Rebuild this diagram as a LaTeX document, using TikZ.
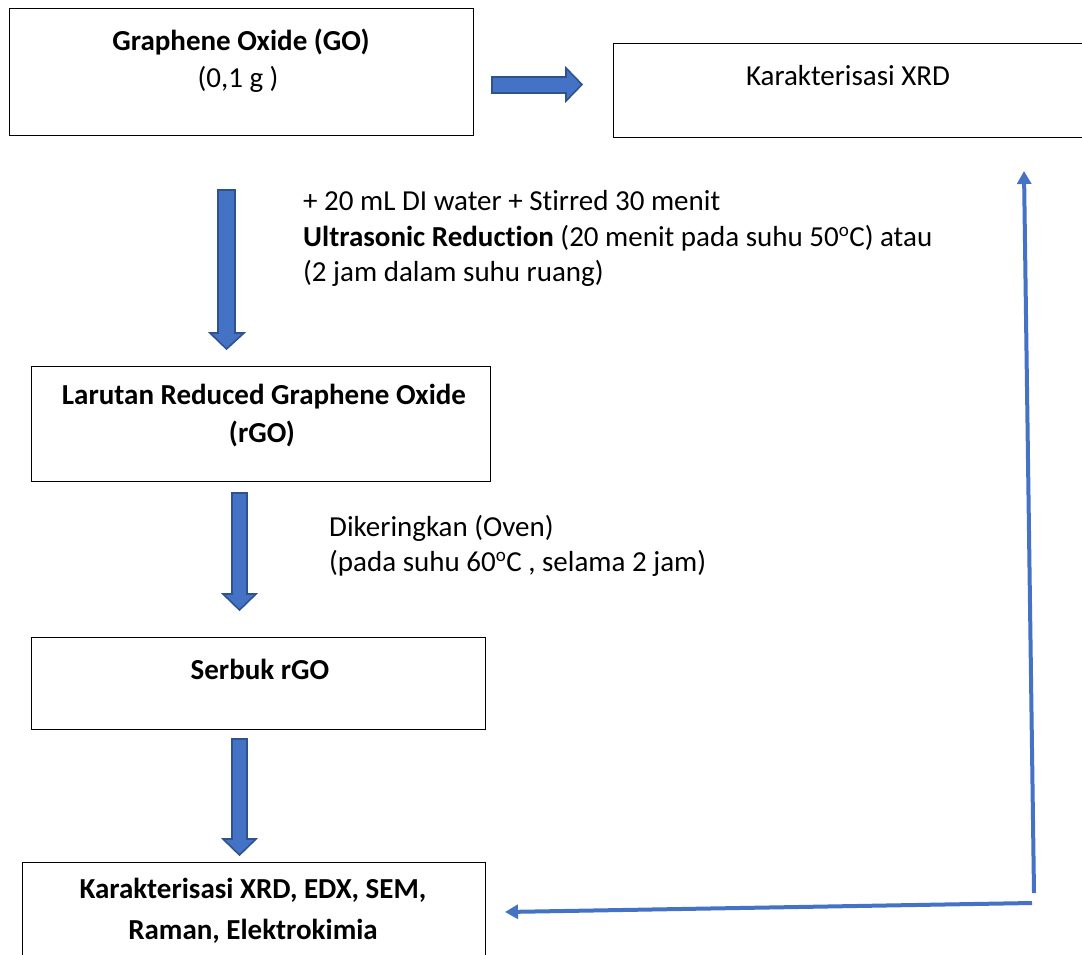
\documentclass[tikz,border=0pt]{standalone}
\usepackage{fontspec}
\setmainfont{Carlito}[Ligatures=NoCommon]
\usetikzlibrary{arrows.meta}
\definecolor{arrowfill}{HTML}{4472C4}
\definecolor{arrowline}{HTML}{2F528F}
\newcommand\degsup{\textsuperscript{\fontsize{19}{19}\selectfont o}}
\begin{document}
\begin{tikzpicture}[x=1pt,y=-1pt,
  box/.style={draw=black, line width=1.4pt, fill=white, inner sep=0pt},
  lbl/.style={inner sep=0pt, font=\fontsize{29}{34}\selectfont},
  blockarrow/.style={fill=arrowfill, draw=arrowline, line width=1.6pt, line join=miter},
  thinarrow/.style={draw=arrowfill, line width=4pt, -{Triangle[length=13pt,width=14pt]}}]
\useasboundingbox (0,0) rectangle (1082,954);
\clip (0,0) rectangle (1082,954);
% boxes
\node[box, anchor=north west, minimum width=464, minimum height=127] (go) at (9,8) {};
\node[box, anchor=north west, minimum width=477, minimum height=94] (xrd) at (613,43) {};
\node[box, anchor=north west, minimum width=459, minimum height=115] (rgo) at (31,366) {};
\node[box, anchor=north west, minimum width=454, minimum height=92] (serbuk) at (31,637) {};
\node[box, anchor=north west, minimum width=463, minimum height=108] (karak) at (22,862) {};
% box texts
\node[lbl, anchor=base] (go1) at (241,50) {\textbf{Graphene Oxide (GO)}};
\node[lbl, anchor=base] (go2) at (238,87) {(0,1 g )};
\node[lbl, anchor=base] (xrd1) at (848,85) {Karakterisasi XRD};
\node[lbl, anchor=base] (rgo1) at (264,404) {\textbf{Larutan Reduced Graphene Oxide}};
\node[lbl, anchor=base] (rgo2) at (262,442) {\textbf{(rGO)}};
\node[lbl, anchor=base] (ser1) at (260,679) {\textbf{Serbuk rGO}};
\node[lbl, anchor=base] (kar1) at (253,898) {\textbf{Karakterisasi XRD, EDX, SEM,}};
\node[lbl, anchor=base] (kar2) at (253,939) {\textbf{Raman, Elektrokimia}};
% process texts
\node[lbl, anchor=base west] (ta1) at (303,210) {+ 20 mL DI water + Stirred 30 menit};
\node[lbl, anchor=base west] (ta2) at (303,246) {\textbf{Ultrasonic Reduction} (20 menit pada suhu 50\degsup C) atau};
\node[lbl, anchor=base west] (ta3) at (303,281) {(2 jam dalam suhu ruang)};
\node[lbl, anchor=base west] (tb1) at (329,536) {Dikeringkan (Oven)};
\node[lbl, anchor=base west] (tb2) at (329,571) {(pada suhu 60\degsup C , selama 2 jam)};
% block arrows
\draw[blockarrow] (492,77) -- (566,77) -- (566,68) -- (582,84.5) -- (566,101) -- (566,93) -- (492,93) -- cycle;
\draw[blockarrow] (218,190) -- (235,190) -- (235,333) -- (244,333) -- (226.5,349) -- (210,333) -- (218,333) -- cycle;
\draw[blockarrow] (232,493) -- (247,493) -- (247,594) -- (256,594) -- (239.5,610) -- (223,594) -- (232,594) -- cycle;
\draw[blockarrow] (232,739) -- (247,739) -- (247,839) -- (256,839) -- (239.5,855) -- (223,839) -- (232,839) -- cycle;
% thin feedback arrows
\coordinate (c1) at (1034,893);
\coordinate (c1end) at (1024,171);
\coordinate (c2) at (1032,903);
\coordinate (c2end) at (505,912);
\draw[thinarrow] (c1) -- (c1end);
\draw[thinarrow] (c2) -- (c2end);
\end{tikzpicture}
\end{document}
